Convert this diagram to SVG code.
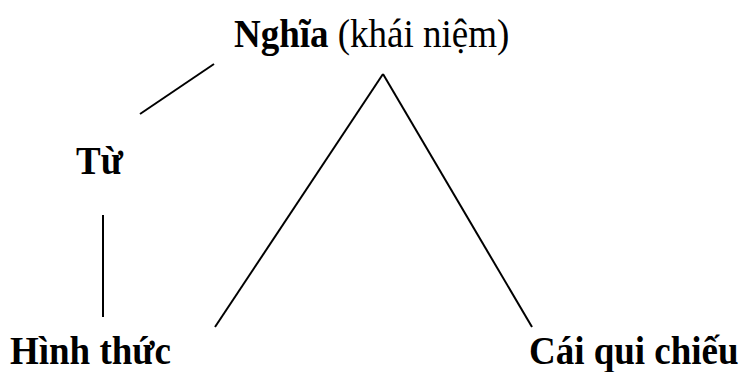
<svg xmlns="http://www.w3.org/2000/svg" width="740" height="372" viewBox="0 0 740 372">
<style>
text{font-family:"Liberation Serif","Times New Roman",serif;font-size:37px;fill:#000}
.b{font-weight:bold}
.c line{stroke:#000;stroke-width:2;fill:none}
</style>
<rect width="740" height="372" fill="#fff"/>
<g class="c" id="connectors">
<line x1="140" y1="114" x2="214" y2="64"/>
<line x1="103" y1="215" x2="103" y2="317"/>
<line x1="215" y1="327" x2="383" y2="74"/>
<line x1="383" y1="74" x2="532" y2="327"/>
</g>
<g id="nghia"><text transform="translate(234,46.5) scale(1,1.07)"><tspan class="b">Nghĩa</tspan> (khái niệm)</text></g>
<g id="tu"><text class="b" transform="translate(76,174) scale(1,1.07)">Từ</text></g>
<g id="hinhthuc"><text class="b" transform="translate(10,364) scale(1,1.07)">Hình thức</text></g>
<g id="caiquichieu"><text class="b" transform="translate(529,364) scale(1,1.07)">Cái qui chiếu</text></g>
</svg>
